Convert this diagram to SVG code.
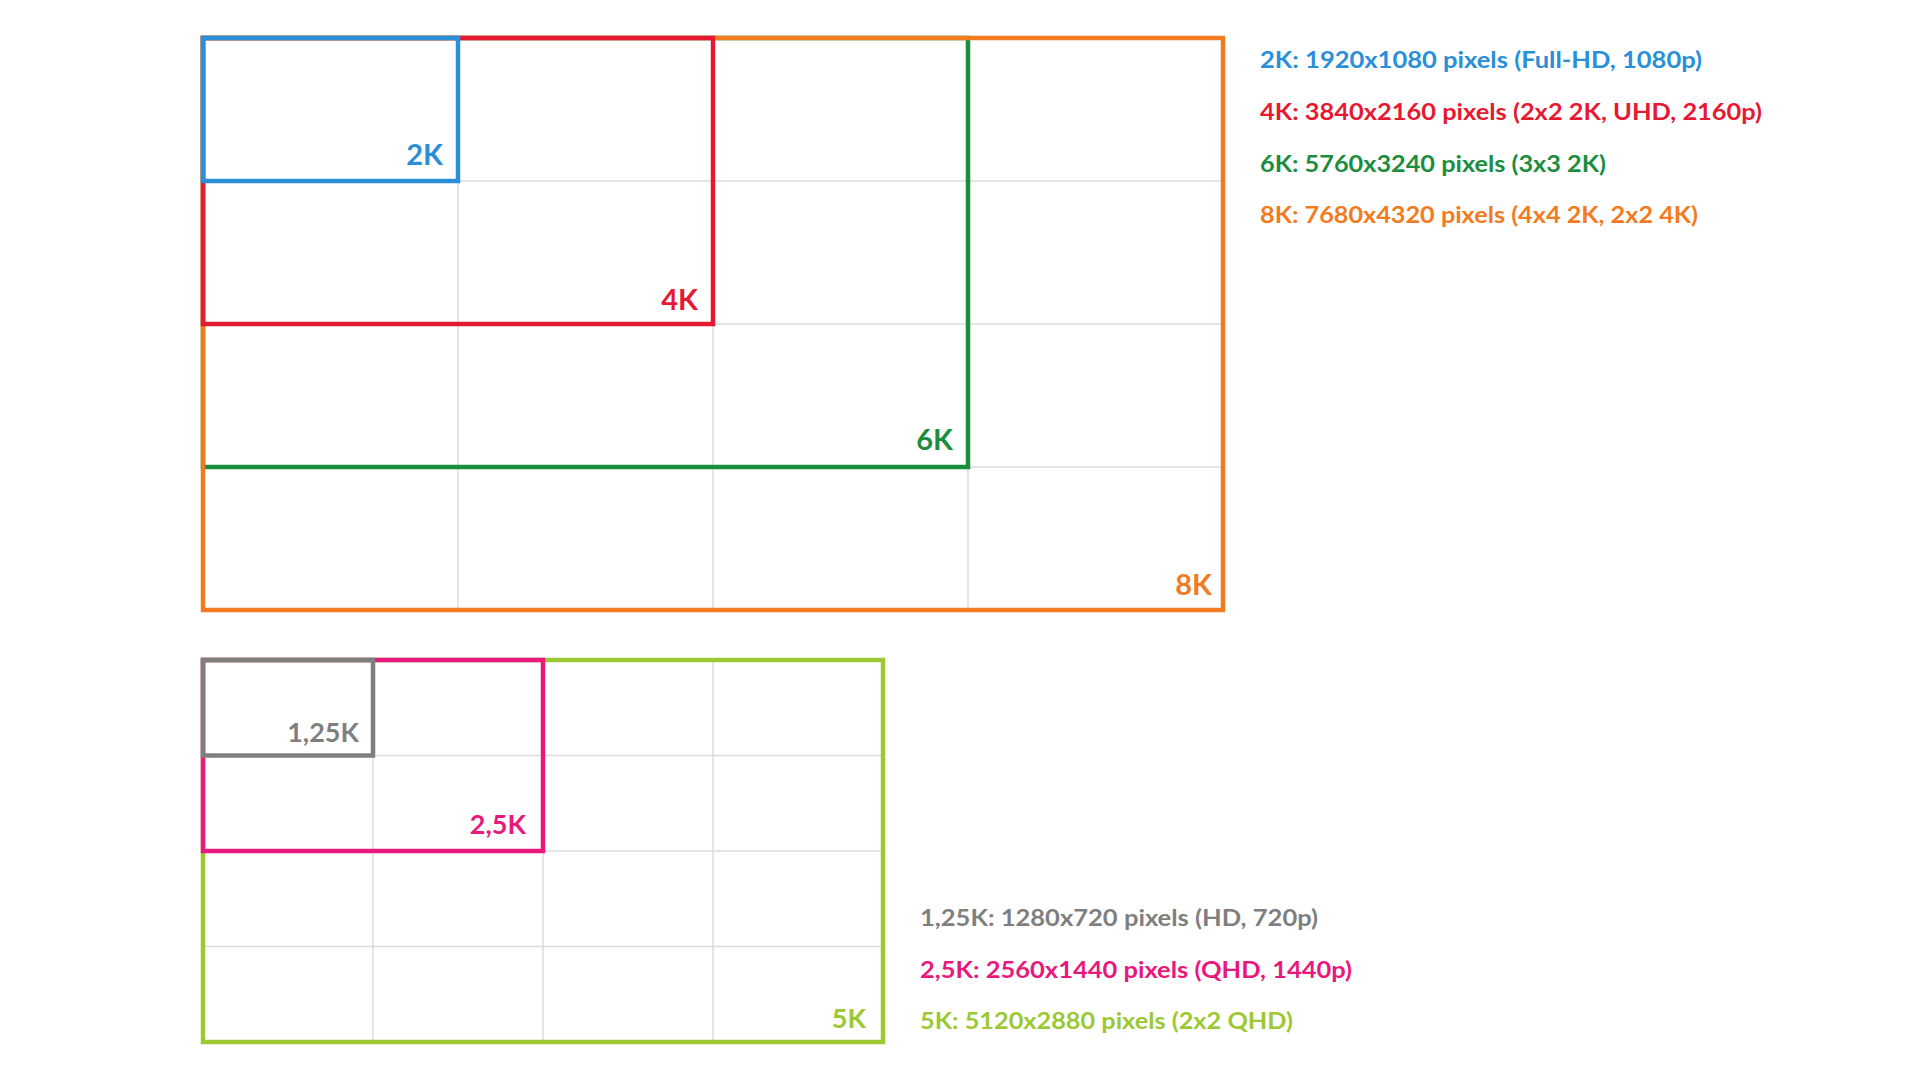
<svg xmlns="http://www.w3.org/2000/svg" width="1920" height="1080" viewBox="0 0 1920 1080">
<style>
.grid{stroke:#dcdcdc;stroke-width:1.5;fill:none}
.box{fill:none;stroke-width:4.5}
.lbl{font-family:Lato,"Open Sans","Liberation Sans",sans-serif;font-weight:700;font-size:29px;text-anchor:end}
.lbl2{font-family:Lato,"Open Sans","Liberation Sans",sans-serif;font-weight:700;font-size:27px;text-anchor:end}
.leg{font-family:Lato,"Open Sans","Liberation Sans",sans-serif;font-weight:700;font-size:23px}
.blue{stroke:#2a8fd8}.tblue{fill:#2a8fd8}
.red{stroke:#e51a32}.tred{fill:#e51a32}
.green{stroke:#1b8e3e}.tgreen{fill:#1b8e3e}
.orange{stroke:#f27b21}.torange{fill:#f27b21}
.gray{stroke:#7f7f7f}.tgray{fill:#7f7f7f}
.pink{stroke:#e9187c}.tpink{fill:#e9187c}
.lime{stroke:#9cc933}.tlime{fill:#9cc933}
</style>
<rect width="1920" height="1080" fill="#ffffff"/>
<g id="grid-top" class="grid">
<line x1="458" y1="38" x2="458" y2="610"/>
<line x1="713" y1="38" x2="713" y2="610"/>
<line x1="968" y1="38" x2="968" y2="610"/>
<line x1="203" y1="181" x2="1223" y2="181"/>
<line x1="203" y1="324" x2="1223" y2="324"/>
<line x1="203" y1="467" x2="1223" y2="467"/>
</g>
<g id="grid-bottom" class="grid">
<line x1="373" y1="660" x2="373" y2="1042"/>
<line x1="543" y1="660" x2="543" y2="1042"/>
<line x1="713" y1="660" x2="713" y2="1042"/>
<line x1="203" y1="755.5" x2="883" y2="755.5"/>
<line x1="203" y1="851" x2="883" y2="851"/>
<line x1="203" y1="946.5" x2="883" y2="946.5"/>
</g>
<g id="node-6k">
<rect class="box green" x="203" y="38" width="765" height="429"/>
<text class="lbl tgreen" x="953" y="450">6K</text>
</g>
<g id="node-8k">
<rect class="box orange" x="203" y="38" width="1020" height="572"/>
<text class="lbl torange" x="1212" y="595">8K</text>
</g>
<g id="node-4k">
<rect class="box red" x="203" y="38" width="510" height="286"/>
<text class="lbl tred" x="698" y="310">4K</text>
</g>
<g id="node-2k">
<rect class="box blue" x="203" y="38" width="255" height="143"/>
<text class="lbl tblue" x="443" y="165">2K</text>
</g>
<g id="node-5k">
<rect class="box lime" x="203" y="660" width="680" height="382"/>
<text class="lbl2 tlime" x="866" y="1028">5K</text>
</g>
<g id="node-2-5k">
<rect class="box pink" x="203" y="660" width="340" height="191"/>
<text class="lbl2 tpink" x="526" y="834">2,5K</text>
</g>
<g id="node-1-25k">
<rect class="box gray" x="203" y="660" width="170" height="95.5"/>
<text class="lbl2 tgray" x="359" y="742">1,25K</text>
</g>
<g id="legend-top" class="leg">
<text class="tblue" x="1260" y="68" textLength="442" lengthAdjust="spacingAndGlyphs">2K: 1920x1080 pixels (Full-HD, 1080p)</text>
<text class="tred" x="1260" y="120" textLength="502" lengthAdjust="spacingAndGlyphs">4K: 3840x2160 pixels (2x2 2K, UHD, 2160p)</text>
<text class="tgreen" x="1260" y="172" textLength="346" lengthAdjust="spacingAndGlyphs">6K: 5760x3240 pixels (3x3 2K)</text>
<text class="torange" x="1260" y="223" textLength="438" lengthAdjust="spacingAndGlyphs">8K: 7680x4320 pixels (4x4 2K, 2x2 4K)</text>
</g>
<g id="legend-bottom" class="leg">
<text class="tgray" x="920" y="926" textLength="398" lengthAdjust="spacingAndGlyphs">1,25K: 1280x720 pixels (HD, 720p)</text>
<text class="tpink" x="920" y="978" textLength="432" lengthAdjust="spacingAndGlyphs">2,5K: 2560x1440 pixels (QHD, 1440p)</text>
<text class="tlime" x="920" y="1029" textLength="373" lengthAdjust="spacingAndGlyphs">5K: 5120x2880 pixels (2x2 QHD)</text>
</g>
</svg>
